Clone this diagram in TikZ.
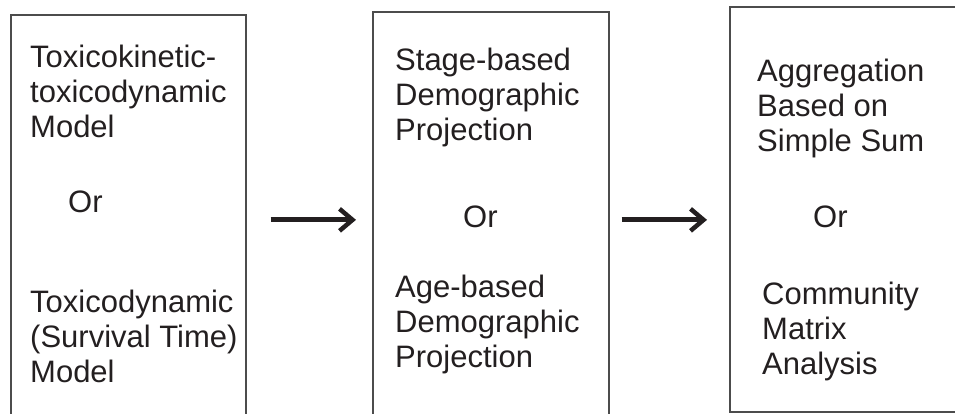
\documentclass[tikz,border=0pt]{standalone}
\usepackage{fontspec}
\setmainfont{Liberation Sans}
\usetikzlibrary{positioning}
\usetikzlibrary{arrows.meta}
\definecolor{ink}{HTML}{231F20}

\begin{document}
\begin{tikzpicture}[x=1pt,y=-1pt,
		stagebox/.style={draw=black!70,line width=1.7pt,inner sep=0pt,anchor=north west,minimum width=#1},
		stagetext/.style={text=ink,inner sep=0pt,align=left,anchor=base west,font=\fontsize{31}{35}\selectfont},
		flow/.style={draw=ink,line width=5pt,-{Straight Barb[length=13pt,width=22pt,line width=4.5pt]}}]
		\useasboundingbox (0,0) rectangle (955,413);
		\clip (0,0) rectangle (955,413);
		% the three stages
		\node[stagebox=235pt,minimum height=410pt] (tktd) at (10,14) {};
		\node[stagebox=236pt,minimum height=416pt] (demo) at (372,11) {};
		\node[stagebox=260pt,minimum height=405pt] (comm) at (729,6) {};
		% texts of the first stage (placed at the last baseline)
		\node[stagetext] (tkA) at (30,137) {Toxicokinetic-\\toxicodynamic\\Model};
		\node[stagetext] (tkOr) at (68,212) {Or};
		\node[stagetext] (tkB) at (30,382) {Toxicodynamic\\(Survival Time)\\Model};
		% texts of the second stage
		\node[stagetext] (demoA) at (395,140) {Stage-based\\Demographic\\Projection};
		\node[stagetext] (demoOr) at (463,227) {Or};
		\node[stagetext] (demoB) at (395,367) {Age-based\\Demographic\\Projection};
		% texts of the third stage
		\node[stagetext] (commA) at (757,151) {Aggregation\\Based on\\Simple Sum};
		\node[stagetext] (commOr) at (813,227) {Or};
		\node[stagetext] (commB) at (762,374) {Community\\Matrix\\Analysis};
		% arrows
		\draw[flow,shorten <=24pt,shorten >=16pt] (tktd.east) -- (demo.west);
		\draw[flow,shorten <=12pt,shorten >=22pt] (demo.east) -- (demo.east -| comm.west);
\end{tikzpicture}
\end{document}
